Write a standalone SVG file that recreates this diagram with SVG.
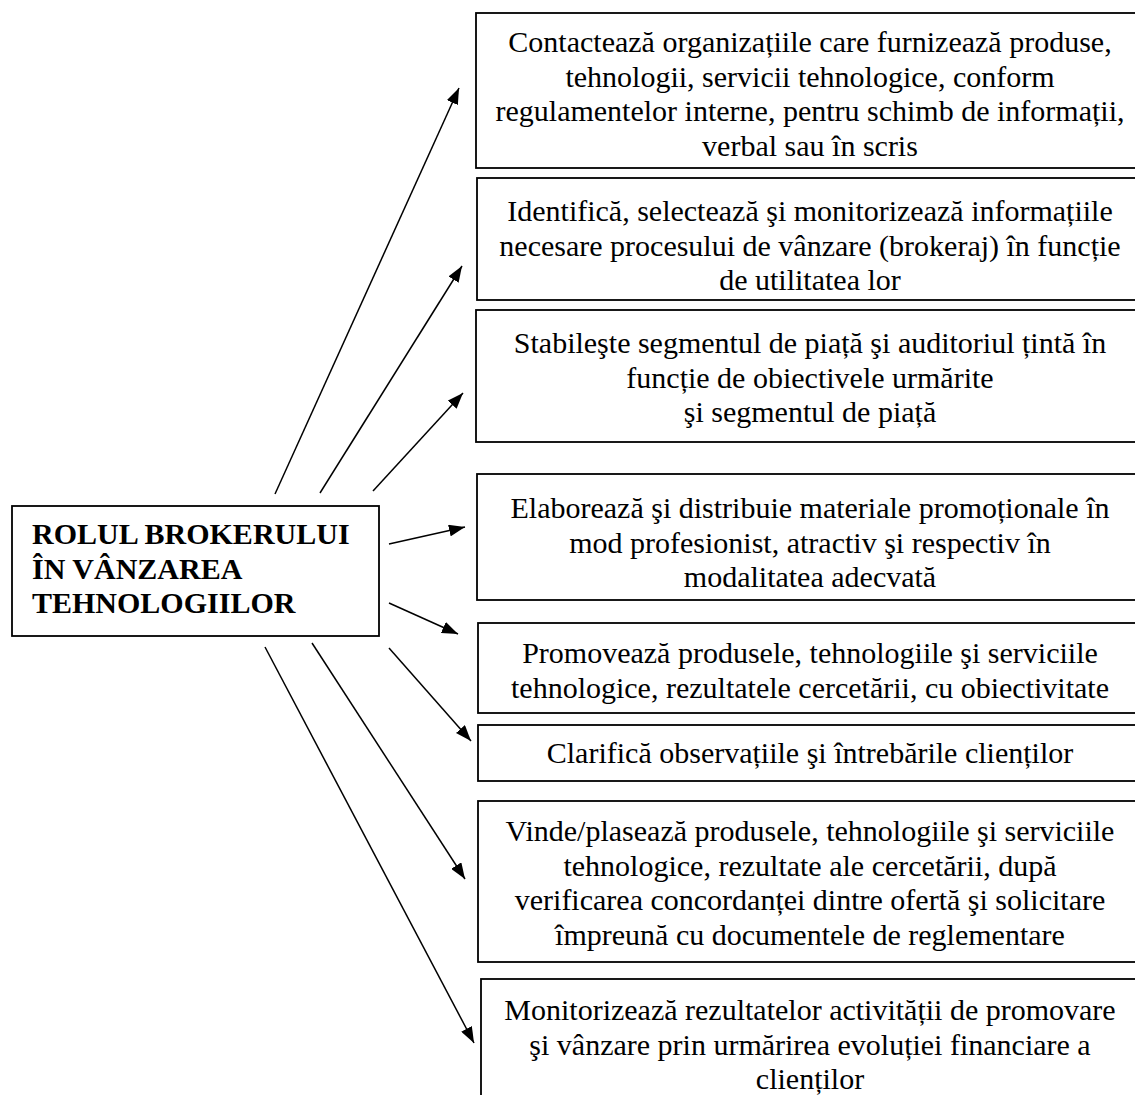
<svg xmlns="http://www.w3.org/2000/svg" width="1135" height="1095" viewBox="0 0 1135 1095">
  <style>
    .box { fill: #ffffff; stroke: #000000; stroke-width: 1.8; }
    .txt { font-family: "Liberation Serif", "Times New Roman", serif; font-size: 30px; fill: #000000; text-anchor: middle; }
    .title { font-family: "Liberation Serif", "Times New Roman", serif; font-size: 30px; font-weight: bold; fill: #000000; }
    .arrow { stroke: #000000; stroke-width: 1.5; fill: none; marker-end: url(#head); }
  </style>
  <defs>
    <marker id="head" markerUnits="userSpaceOnUse" markerWidth="17" markerHeight="12" refX="16" refY="6" orient="auto">
      <path d="M0,0 L16,6 L0,12 z" fill="#000000"/>
    </marker>
  </defs>
  <rect width="1135" height="1095" fill="#ffffff"/>

  <!-- central node -->
  <g id="node-rol">
    <rect class="box" x="12" y="506" width="367" height="130"/>
    <text class="title" x="32" y="544">ROLUL BROKERULUI</text>
    <text class="title" x="32" y="578.5">ÎN VÂNZAREA</text>
    <text class="title" x="32" y="613">TEHNOLOGIILOR</text>
  </g>

  <!-- activity nodes -->
  <g id="node-contacteaza">
    <rect class="box" x="476" y="13" width="670" height="155"/>
    <text class="txt" x="810" y="52">Contactează organizațiile care furnizează produse,</text>
    <text class="txt" x="810" y="86.5">tehnologii, servicii tehnologice, conform</text>
    <text class="txt" x="810" y="121">regulamentelor interne, pentru schimb de informații,</text>
    <text class="txt" x="810" y="155.5">verbal sau în scris</text>
  </g>

  <g id="node-identifica">
    <rect class="box" x="477" y="178" width="669" height="122"/>
    <text class="txt" x="810" y="221">Identifică, selectează şi monitorizează informațiile</text>
    <text class="txt" x="810" y="255.5">necesare procesului de vânzare (brokeraj) în funcție</text>
    <text class="txt" x="810" y="290">de utilitatea lor</text>
  </g>

  <g id="node-stabileste">
    <rect class="box" x="476" y="310" width="670" height="132"/>
    <text class="txt" x="810" y="353">Stabileşte segmentul de piață şi auditoriul țintă în</text>
    <text class="txt" x="810" y="387.5">funcție de obiectivele urmărite</text>
    <text class="txt" x="810" y="422">şi segmentul de piață</text>
  </g>

  <g id="node-elaboreaza">
    <rect class="box" x="477" y="474" width="669" height="126"/>
    <text class="txt" x="810" y="518">Elaborează şi distribuie materiale promoționale în</text>
    <text class="txt" x="810" y="552.5">mod profesionist, atractiv şi respectiv în</text>
    <text class="txt" x="810" y="587">modalitatea adecvată</text>
  </g>

  <g id="node-promoveaza">
    <rect class="box" x="478" y="623" width="668" height="90"/>
    <text class="txt" x="810" y="663">Promovează produsele, tehnologiile şi serviciile</text>
    <text class="txt" x="810" y="697.5">tehnologice, rezultatele cercetării, cu obiectivitate</text>
  </g>

  <g id="node-clarifica">
    <rect class="box" x="478" y="725" width="668" height="56"/>
    <text class="txt" x="810" y="763">Clarifică observațiile şi întrebările clienților</text>
  </g>

  <g id="node-vinde">
    <rect class="box" x="478" y="801" width="668" height="161"/>
    <text class="txt" x="810" y="841">Vinde/plasează produsele, tehnologiile şi serviciile</text>
    <text class="txt" x="810" y="875.5">tehnologice, rezultate ale cercetării, după</text>
    <text class="txt" x="810" y="910">verificarea concordanței dintre ofertă şi solicitare</text>
    <text class="txt" x="810" y="944.5">împreună cu documentele de reglementare</text>
  </g>

  <g id="node-monitorizeaza">
    <rect class="box" x="481" y="979" width="665" height="140"/>
    <text class="txt" x="810" y="1020">Monitorizează rezultatelor activității de promovare</text>
    <text class="txt" x="810" y="1054.5">şi vânzare prin urmărirea evoluției financiare a</text>
    <text class="txt" x="810" y="1089">clienților</text>
  </g>

  <!-- connectors from the central node -->
  <g id="connectors">
    <line class="arrow" x1="275" y1="494" x2="459" y2="88"/>
    <line class="arrow" x1="320" y1="493" x2="462" y2="266"/>
    <line class="arrow" x1="373" y1="491" x2="463" y2="393"/>
    <line class="arrow" x1="389" y1="544" x2="465" y2="527"/>
    <line class="arrow" x1="389" y1="603" x2="458" y2="634"/>
    <line class="arrow" x1="389" y1="648" x2="471" y2="741"/>
    <line class="arrow" x1="312" y1="643" x2="465" y2="879"/>
    <line class="arrow" x1="265" y1="647" x2="474" y2="1043"/>
  </g>
</svg>
